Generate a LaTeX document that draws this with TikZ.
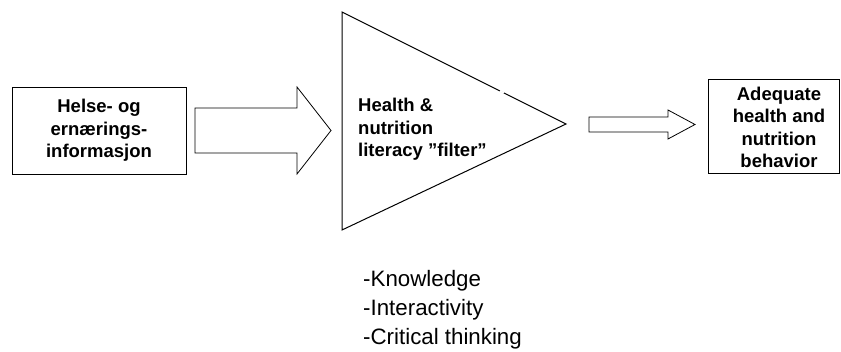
\documentclass[tikz,border=0pt]{standalone}
\usepackage{fontspec}
\setmainfont{Liberation Sans}
\usetikzlibrary{calc}
\begin{document}
\begin{tikzpicture}[x=1pt,y=-1pt,
  outline/.style={draw=black, line width=0.8pt},
  boxtext/.style={font=\bfseries\fontsize{18.5}{22.5}\selectfont, align=center, inner sep=0pt},
  listtext/.style={font=\fontsize{22.3}{29}\selectfont, align=left, inner sep=0pt, anchor=base west}]
\useasboundingbox (0,0) rectangle (841,352);
% left box
\node[outline, minimum width=174pt, minimum height=87pt, inner sep=0pt, boxtext] (info) at (99,130.5) {Helse- og\\ernærings-\\informasjon};
% right box
\node[outline, minimum width=131.5pt, minimum height=94pt, inner sep=0pt] (behav) at (773.75,126) {};
\node[boxtext, anchor=base] (behavtext) at (779,168) {Adequate\\health and\\nutrition\\behavior};
% filter triangle
\draw[outline, line width=1pt] (342,12) coordinate (ftop) -- (566,124) coordinate (ftip) -- (342,230) coordinate (fbot) -- cycle;
\draw[white, line width=2pt] ($(ftop)!0.705!(ftip)$) -- ($(ftop)!0.722!(ftip)$);
\node[boxtext, align=left, anchor=base west] (filtertext) at (358,157) {Health \&\\nutrition\\literacy ”filter”};
% block arrows
\draw[outline] (195,108) -- (297,108) -- (297,87) -- (331,130.5) -- (297,174) -- (297,153) -- (195,153) -- cycle;
\draw[outline] (589,117) -- (668,117) -- (668,110) -- (695,124.5) -- (668,139) -- (668,132) -- (589,132) -- cycle;
% list
\node[listtext] (skills) at (363,345) {-Knowledge\\-Interactivity\\-Critical thinking};
\end{tikzpicture}
\end{document}
